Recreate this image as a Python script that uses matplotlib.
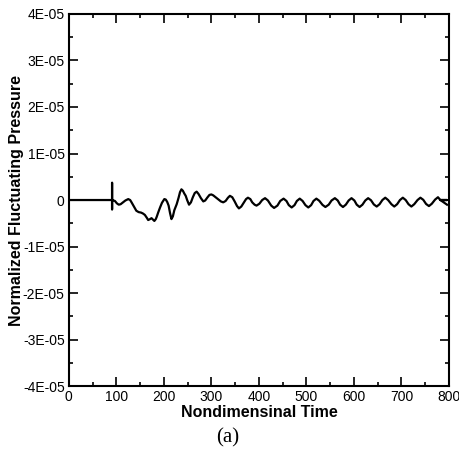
import matplotlib
matplotlib.use("Agg")
import matplotlib.pyplot as plt
from matplotlib.ticker import MultipleLocator, FuncFormatter

# nondimensional time and pressure (units of 1E-05)
time = [0, 91, 91, 91, 91,
        97, 101, 105, 109, 114, 119, 125, 129, 132, 137, 142, 147, 152, 156,
        160, 164, 167, 171, 174, 177, 180, 183, 185, 188, 192, 196, 201, 204,
        207, 210, 213, 216, 219, 222, 227, 231, 234, 237, 240, 243, 246, 249,
        253, 257, 261, 265, 269, 273, 278, 283, 287, 292, 296, 300, 304, 309,
        314, 320, 325, 330, 335, 339, 344, 349, 354, 358, 363, 368, 373, 377,
        382, 386, 391, 395,
        401, 407, 413, 419, 426, 432, 439, 445, 452, 458, 463, 469, 475, 480,
        486, 492, 498, 504, 510, 515, 521, 527, 534, 540, 547, 553, 560, 566,
        571, 577, 583, 589, 595, 601, 606, 612, 618, 624, 630, 636, 642, 648,
        654, 660, 666, 672, 679, 685, 691, 697, 703, 709, 715, 721, 727, 734,
        740, 746, 752, 758, 764, 771, 777,
        782, 796, 782, 796]
pressure = [0, 0, 0.37, -0.20, 0,
            -0.02, -0.07, -0.10, -0.09, -0.05, -0.01, 0.02, 0.00, -0.05, -0.14,
            -0.23, -0.26, -0.27, -0.29, -0.32, -0.38, -0.43, -0.41, -0.39, -0.42,
            -0.45, -0.41, -0.36, -0.27, -0.16, -0.06, 0.02, 0.01, -0.04, -0.12,
            -0.28, -0.41, -0.35, -0.22, -0.09, 0.05, 0.17, 0.23, 0.20, 0.14,
            0.09, 0.00, -0.10, -0.05, 0.06, 0.15, 0.18, 0.13, 0.04, -0.03,
            -0.01, 0.06, 0.11, 0.12, 0.10, 0.06, 0.02, -0.03, -0.05, -0.02,
            0.05, 0.09, 0.06, -0.03, -0.13, -0.18, -0.14, -0.06, 0.02, 0.05,
            0.02, -0.05, -0.10, -0.12,
            -0.08, 0.00, 0.04, -0.01, -0.12, -0.17, -0.12, -0.02, 0.03, -0.02,
            -0.11, -0.16, -0.11, -0.02, 0.03, -0.02, -0.11, -0.16, -0.11, -0.02,
            0.03, -0.015, -0.105, -0.15, -0.10, -0.01, 0.04, -0.01, -0.10, -0.15,
            -0.10, -0.01, 0.04, -0.01, -0.10, -0.15, -0.10, -0.01, 0.04, -0.005,
            -0.095, -0.14, -0.09, 0.00, 0.05, 0.00, -0.09, -0.14, -0.09, 0.00,
            0.05, 0.00, -0.09, -0.14, -0.09, 0.00, 0.05, 0.005, -0.085, -0.13,
            -0.08, 0.01, 0.06,
            0.00, 0.00, 0.00, -0.10]

ytick_vals = [-4, -3, -2, -1, 0, 1, 2, 3, 4]


def fmt_y(v, pos):
    if abs(v) < 1e-12:
        return "0"
    return f"{v:.0f}E-05"


fig = plt.figure(figsize=(4.59, 4.50), dpi=100)
ax = fig.add_axes([0.150, 0.142, 0.828, 0.827])
ax.plot(time, pressure, color="black", lw=1.6)

ax.set_xlim(0, 800)
ax.set_ylim(-4, 4)
ax.xaxis.set_major_locator(MultipleLocator(100))
ax.xaxis.set_minor_locator(MultipleLocator(50))
ax.set_yticks(ytick_vals)
ax.yaxis.set_minor_locator(MultipleLocator(0.5))
ax.yaxis.set_major_formatter(FuncFormatter(fmt_y))
ax.tick_params(which="both", direction="in", top=True, right=True,
               labelsize=10, width=1.2, colors="black", pad=3)
ax.tick_params(which="major", length=6.5)
ax.tick_params(which="minor", length=3)
for lab in ax.get_xticklabels() + ax.get_yticklabels():
    lab.set_family("Liberation Sans")
for s in ax.spines.values():
    s.set_linewidth(1.5)

ax.set_xlabel("Nondimensinal Time", fontsize=11.5, fontweight="bold",
              family="Liberation Sans")
ax.set_ylabel("Normalized Fluctuating Pressure", fontsize=11.5, fontweight="bold",
              family="Liberation Sans")
ax.xaxis.set_label_coords(0.5, -0.070)
ax.yaxis.set_label_coords(-0.137, 0.5)
ax.xaxis.label.set_va("center")
ax.yaxis.label.set_va("center")
fig.text(228 / 459, 1 - 438 / 450, "(a)", fontsize=15, family="Liberation Serif",
         ha="center", va="center")

fig.savefig("out.png", dpi=100)
